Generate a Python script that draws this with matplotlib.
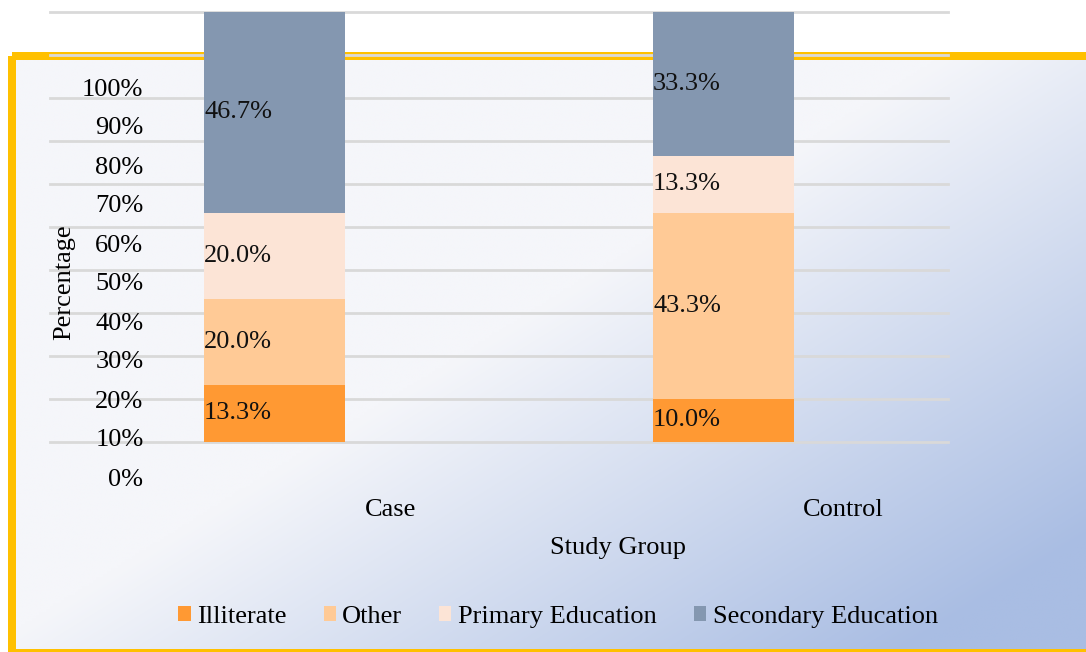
import numpy as np
import matplotlib
matplotlib.use("Agg")
import matplotlib.pyplot as plt
from matplotlib.patches import Patch, Rectangle

# ---- data ----
groups = ["Case", "Control"]
series = ["Illiterate", "Other", "Primary Education", "Secondary Education"]
illiterate = [13.3, 10.0]
other = [20.0, 43.3]
primary = [20.0, 13.3]
secondary = [46.7, 33.3]
y_ticks = [0, 10, 20, 30, 40, 50, 60, 70, 80, 90, 100]
colors = ["#FF9933", "#FFCA96", "#FCE4D6", "#8497B0"]

plt.rcParams["font.family"] = ["Liberation Serif", "DejaVu Serif"]
FS = 19
W, H = 1086, 652
fig = plt.figure(figsize=(W / 100, H / 100), dpi=100)
fig.patch.set_facecolor("white")

def fx(px):
    return px / W

def fy(py):
    return 1 - py / H

# ---- background (gradient panel with orange frame) ----
bg = fig.add_axes([0, 0, 1, 1], zorder=-5)
bg.set_xlim(0, W)
bg.set_ylim(H, 0)
bg.axis("off")
nx, ny = 300, 200
u = np.linspace(0, 1, nx)[None, :]
v = np.linspace(0, 1, ny)[:, None]
t = np.clip(1.16 * u + 1.03 * v - 1.0, 0, 1)
c0 = np.array([245, 246, 250]) / 255
c1 = np.array([169, 189, 227]) / 255
img = c0[None, None, :] * (1 - t[..., None]) + c1[None, None, :] * t[..., None]
bg.imshow(img, extent=(16, W, 649, 60), aspect="auto", interpolation="bilinear")
bg.add_patch(Rectangle((12, 56), 1100, 597, fill=False, edgecolor="#FFC000",
                       linewidth=5.76, clip_on=False))

# ---- main bar axes ----
ax = fig.add_axes([fx(50), fy(442), fx(898), 430 / H])
ax.patch.set_alpha(0)
x = np.arange(len(groups))
width = 0.314
bottom = np.zeros(len(groups))
for name, vals, col in zip(series, [illiterate, other, primary, secondary], colors):
    vals = np.array(vals)
    ax.bar(x, vals, width, bottom=bottom, color=col, label=name, zorder=3)
    for xi, b, vv in zip(x, bottom, vals):
        ax.text(xi - width / 2, b + vv / 2, f"{vv:.1f}%", ha="left", va="center",
                fontsize=FS, color="#111111", zorder=4)
    bottom = bottom + vals
ax.set_xlim(-0.5, 1.5)
ax.set_ylim(0, 100)
ax.set_yticks(y_ticks)
ax.set_xticks([])
ax.tick_params(axis="y", length=0, labelleft=False)
ax.grid(axis="y", color="#D9D9D9", linewidth=2.0, zorder=1)
ax.set_axisbelow(True)
for gl in ax.get_ygridlines():
    gl.set_clip_on(False)
for s in ax.spines.values():
    s.set_visible(False)

# ---- axis labels (offset, as rendered in the reference) ----
ax2 = fig.add_axes([fx(149), fy(477), fx(904), 390 / H])
ax2.patch.set_alpha(0)
ax2.set_xlim(-0.535, 1.465)
ax2.set_ylim(0, 100)
ax2.set_yticks(y_ticks)
ax2.set_yticklabels([f"{v}%" for v in y_ticks], fontsize=FS)
ax2.set_xticks(x)
ax2.set_xticklabels(groups, fontsize=FS)
ax2.tick_params(axis="both", length=0)
ax2.tick_params(axis="y", pad=4)
ax2.tick_params(axis="x", pad=16)
for s in ax2.spines.values():
    s.set_visible(False)

fig.text(fx(64), fy(282), "Percentage", rotation=90, ha="center", va="center", fontsize=FS)
fig.text(fx(618), fy(548), "Study Group", ha="center", va="center", fontsize=FS)

handles = [Patch(facecolor=c, edgecolor="none") for c in colors]
fig.legend(handles, series, loc="center", bbox_to_anchor=(fx(558), fy(617)), ncol=4,
           frameon=False, fontsize=FS, handlelength=0.46, handleheight=0.46,
           handletextpad=0.25, columnspacing=1.4, borderpad=0, borderaxespad=0)

fig.savefig("out.png", dpi=100)
